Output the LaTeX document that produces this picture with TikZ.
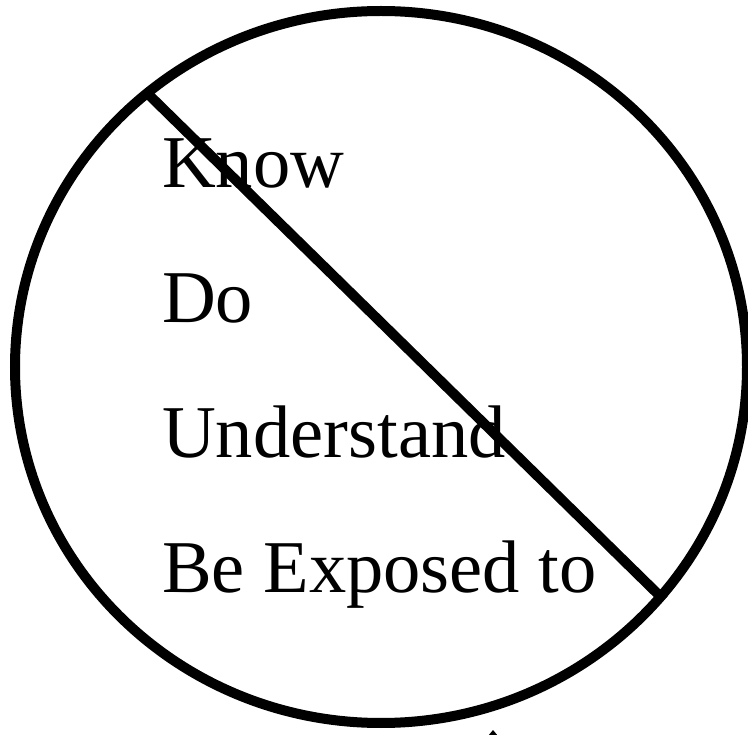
\documentclass[tikz,border=0pt]{standalone}
\usepackage{fontspec}
\setmainfont{Liberation Serif}
\usepackage{tikz}
\usetikzlibrary{positioning}

\tikzset{
  level/.style={anchor=base west, inner sep=0pt, font=\fontsize{74.5}{80}\selectfont},
  rim/.style={line width=10pt}
}

\begin{document}
\begin{tikzpicture}[x=1pt, y=-1pt]
        \useasboundingbox (0,0) rectangle (748,735);
        \clip (0,0) rectangle (748,735);

        % outer ring and the diagonal cut
        \draw[rim] (381,367) ellipse [x radius=366, y radius=356];
        \coordinate (cutA) at (146,92);
        \coordinate (cutB) at (664,600);
        \draw[rim] (cutA) -- (cutB);

        % the four levels
        \node[level] (know) at (162,188) {Know};
        \node[level] (do) at (162,323) {Do};
        \node[level] (understand) at (162,458) {Understand};
        \node[level] (exposed) at (162,593) {Be Exposed to};

        % small tip at the bottom edge
        \fill (488,736) -- (493,730) -- (498,736) -- cycle;
      \end{tikzpicture}
\end{document}
